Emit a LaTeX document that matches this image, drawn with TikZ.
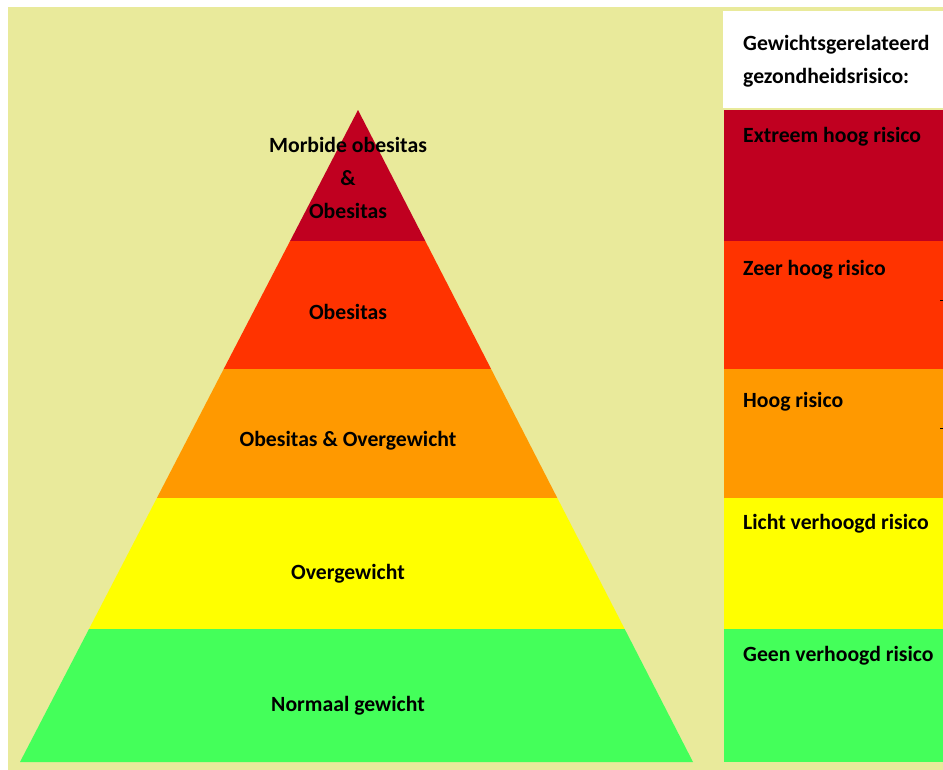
\documentclass[tikz,border=0pt]{standalone}
\usepackage{fontspec}
\setmainfont{Carlito}
\definecolor{beige}{RGB}{233,234,155}
\definecolor{riskdark}{RGB}{192,0,32}
\definecolor{riskred}{RGB}{255,51,0}
\definecolor{riskorange}{RGB}{255,153,0}
\definecolor{riskyellow}{RGB}{255,255,0}
\definecolor{riskgreen}{RGB}{68,255,90}
\tikzset{
  pyrlabel/.style={align=center,font=\bfseries\fontsize{21.8}{33}\selectfont,inner sep=0pt},
  risklabel/.style={anchor=west,align=left,font=\bfseries\fontsize{21.8}{33}\selectfont,inner sep=0pt}
}
\begin{document}
\begin{tikzpicture}[x=1bp,y=-1bp]
\useasboundingbox (0,0) rectangle (943,770);
% Background
\fill[white] (0,0) rectangle (943,770);
\fill[beige] (8,7) rectangle (943,770);

% Pyramid bands
\fill[riskdark] (358,110) -- (425.3,241) -- (290.1,241) -- cycle;
\fill[riskred] (290.1,241) -- (425.3,241) -- (491.1,369) -- (223.7,369) -- cycle;
\fill[riskorange] (223.7,369) -- (491.1,369) -- (557.3,498) -- (156.9,498) -- cycle;
\fill[riskyellow] (156.9,498) -- (557.3,498) -- (624.7,629) -- (89.0,629) -- cycle;
\fill[riskgreen] (89.0,629) -- (624.7,629) -- (693,762) -- (20,762) -- cycle;

% Legend bands
\fill[white] (723,11) rectangle (943,108);
\fill[riskdark] (724,110) rectangle (943,241);
\fill[riskred] (724,241) rectangle (943,369);
\fill[riskorange] (724,369) rectangle (943,498);
\fill[riskyellow] (724,498) rectangle (943,629);
\fill[riskgreen] (724,629) rectangle (943,762);
\draw[black,line width=1bp] (940,300) -- (943,300);
\draw[black,line width=1bp] (940,428) -- (943,428);

% Pyramid labels
\node[pyrlabel] (morbid) at (348,178) {Morbide obesitas\\\&\\Obesitas};
\node[pyrlabel] (obese) at (348,312) {Obesitas};
\node[pyrlabel] (obeseover) at (348,441) {Obesitas \& Overgewicht};
\node[pyrlabel] (over) at (348,574) {Overgewicht};
\node[pyrlabel] (normal) at (348,706) {Normaal gewicht};

% Legend labels
\node[risklabel] (header) at (743,61) {Gewichtsgerelateerd\\gezondheidsrisico:};
\node[risklabel] (extreme) at (743,137) {Extreem hoog risico};
\node[risklabel] (veryhigh) at (743,270) {Zeer hoog risico};
\node[risklabel] (high) at (743,402) {Hoog risico};
\node[risklabel] (slight) at (743,524) {Licht verhoogd risico};
\node[risklabel] (none) at (743,656) {Geen verhoogd risico};
\end{tikzpicture}
\end{document}
